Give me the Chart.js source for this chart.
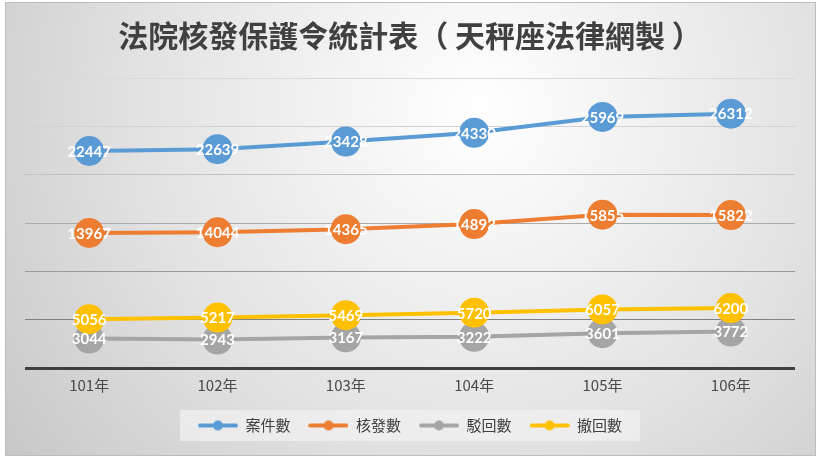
<!DOCTYPE html>
<html>
<head>
<meta charset="utf-8">
<script src="https://cdn.jsdelivr.net/npm/chart.js@4"></script>
<style>
  html, body { margin: 0; padding: 0; background: #fff; }
  #wrap { width: 820px; height: 459px; }
</style>
</head>
<body>
<div id="wrap"><canvas id="myChart" width="820" height="459"></canvas></div>
<script>
const labels = ['101年', '102年', '103年', '104年', '105年', '106年'];
const caseCount = [22447, 22639, 23428, 24330, 25969, 26312];
const issuedCount = [13967, 14044, 14365, 14893, 15855, 15822];
const rejectedCount = [3044, 2943, 3167, 3222, 3601, 3772];
const withdrawnCount = [5056, 5217, 5469, 5720, 6057, 6200];
const seriesNames = ['案件數', '核發數', '駁回數', '撤回數'];
const seriesColors = ['#5B9BD5', '#ED7D31', '#A5A5A5', '#FFC000'];
const titleText = '法院核發保護令統計表（ 天秤座法律網製 ）';

// legend marker: short line with a dot, like the office chart
function legendMark(color) {
    const c = document.createElement('canvas');
    c.width = 40; c.height = 12;
    const g = c.getContext('2d');
    g.strokeStyle = color;
    g.lineWidth = 4;
    g.lineCap = 'round';
    g.beginPath(); g.moveTo(2, 6); g.lineTo(38, 6); g.stroke();
    g.fillStyle = color;
    g.beginPath(); g.arc(20, 6, 5, 0, Math.PI * 2); g.fill();
    return c;
}

const backdrop = {
    id: 'backdrop',
    beforeDraw(chart) {
        const ctx = chart.ctx;
        ctx.save();
        const grad = ctx.createRadialGradient(480, 110, 0, 480, 110, 620);
        grad.addColorStop(0, '#ffffff');
        grad.addColorStop(0.55, '#e2e2e2');
        grad.addColorStop(1, '#c4c4c4');
        ctx.fillStyle = grad;
        ctx.fillRect(5, 2, 811, 454);
        ctx.strokeStyle = '#bdbdbd';
        ctx.lineWidth = 1;
        ctx.strokeRect(5.5, 2.5, 810, 453);

        // legend panel
        const boxes = chart.legend.legendHitBoxes;
        if (boxes && boxes.length) {
            const l = boxes[0].left - 18;
            const last = boxes[boxes.length - 1];
            const r = last.left + last.width + 18;
            ctx.fillStyle = 'rgba(240,240,240,0.75)';
            ctx.fillRect(l, 410, r - l, 31);
        }

        // title
        ctx.fillStyle = '#404040';
        ctx.font = 'bold 30px "Noto Sans CJK TC"';
        ctx.textAlign = 'center';
        ctx.textBaseline = 'middle';
        ctx.fillText(titleText, 410, 36);
        ctx.restore();
    }
};

const valueLabels = {
    id: 'valueLabels',
    afterDatasetsDraw(chart) {
        const ctx = chart.ctx;
        ctx.save();
        ctx.fillStyle = '#ffffff';
        ctx.font = 'bold 15px Lato';
        ctx.textAlign = 'center';
        ctx.textBaseline = 'middle';
        [2, 3, 1, 0].forEach(i => {
            const meta = chart.getDatasetMeta(i);
            meta.data.forEach((pt, j) => {
                ctx.fillText(chart.data.datasets[i].data[j], pt.x, pt.y + 1);
            });
        });
        ctx.restore();
    }
};

const allSeries = [caseCount, issuedCount, rejectedCount, withdrawnCount];
const gridShades = ['#3f3f3f', '#808080', '#9a9a9a', '#ababab', '#c2c2c2', '#d2d2d2', '#dadada'];

const data = {
    labels: labels,
    datasets: allSeries.map((vals, i) => ({
        label: seriesNames[i],
        data: vals,
        borderColor: seriesColors[i],
        backgroundColor: seriesColors[i],
        borderWidth: 4,
        pointRadius: 15,
        pointHoverRadius: 15,
        pointBorderWidth: 0,
        tension: 0,
        order: i === 3 ? 0 : 1
    }))
};

const config = {
    type: 'line',
    data: data,
    options: {
        responsive: false,
        animation: false,
        layout: { padding: { top: 78, left: 25, right: 25, bottom: 16 } },
        scales: {
            x: {
                offset: true,
                grid: { display: false, drawTicks: false },
                border: { display: false },
                ticks: { color: '#4a4a4a', font: { size: 15, family: '"Noto Sans CJK TC"' }, padding: 8 },
                afterFit(scale) { scale.height = 32; }
            },
            y: {
                display: true,
                min: 0,
                max: 30000,
                ticks: { display: false, stepSize: 5000 },
                border: { display: false },
                grid: {
                    drawTicks: false,
                    color: (c) => gridShades[c.index] || '#d0d0d0',
                    lineWidth: (c) => c.index === 0 ? 3 : 1
                },
                afterFit(scale) { scale.width = 0; }
            }
        },
        plugins: {
            legend: {
                position: 'bottom',
                labels: {
                    usePointStyle: true,
                    pointStyleWidth: 40,
                    padding: 18,
                    color: '#404040',
                    font: { size: 15, family: '"Noto Sans CJK TC"' },
                    generateLabels(chart) {
                        return chart.data.datasets.map((ds, i) => ({
                            text: ds.label,
                            pointStyle: legendMark(seriesColors[i]),
                            fillStyle: seriesColors[i],
                            strokeStyle: seriesColors[i],
                            lineWidth: 0,
                            fontColor: '#404040',
                            datasetIndex: i,
                            hidden: false
                        }));
                    }
                }
            },
            tooltip: { enabled: false }
        }
    },
    plugins: [backdrop, valueLabels]
};

var myChart = new Chart(document.getElementById('myChart'), config);
</script>
</body>
</html>
